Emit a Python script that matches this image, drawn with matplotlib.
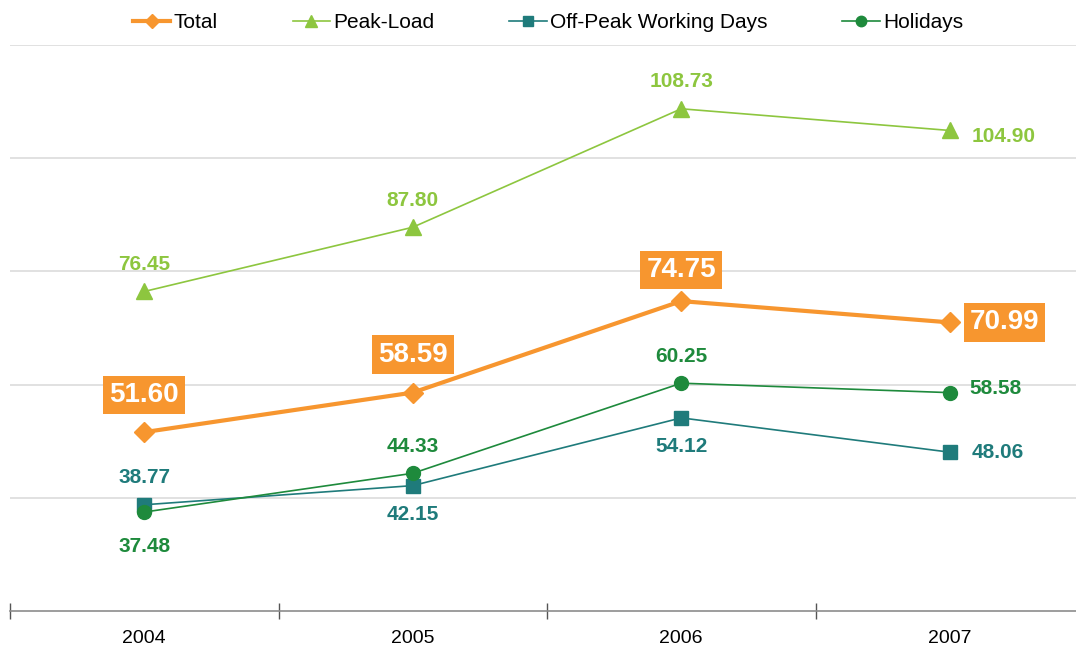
import matplotlib
matplotlib.use("Agg")
import matplotlib.pyplot as plt

plt.rcParams['font.family'] = ['Liberation Sans', 'DejaVu Sans']

years = ['2004', '2005', '2006', '2007']
total = [51.60, 58.59, 74.75, 70.99]
peak_load = [76.45, 87.80, 108.73, 104.90]
off_peak = [38.77, 42.15, 54.12, 48.06]
holidays = [37.48, 44.33, 60.25, 58.58]

c_total = '#F7962F'
c_peak = '#8DC63F'
c_off = '#1F7B7B'
c_hol = '#1E8A3C'

fig = plt.figure(figsize=(10.76, 6.52), dpi=100)
# axes runs slightly past the right edge, as in the reference
ax = fig.add_axes([10 / 1076, 41 / 652, 1074 / 1076, 566 / 652])
x = list(range(len(years)))

ax.set_xlim(-0.5, 3.5)
ax.set_ylim(20, 120)
for yv in [40, 60, 80, 100, 120]:
    ax.axhline(yv, color='#D9D9D9', lw=1.1, zorder=0)

for s in ['top', 'right', 'left']:
    ax.spines[s].set_visible(False)
ax.spines['bottom'].set_color('#8C8C8C')
ax.spines['bottom'].set_linewidth(1.2)
ax.set_yticks([])
ax.set_xticks(x)
ax.set_xticklabels(years, fontsize=14)
ax.tick_params(axis='x', which='major', length=0, pad=14)
ax.set_xticks([-0.5, 0.5, 1.5, 2.5, 3.5], minor=True)
ax.tick_params(axis='x', which='minor', direction='inout', length=11,
               width=1, color='#555555')

ax.plot(x, peak_load, color=c_peak, lw=1.2, marker='^', ms=11, label='Peak-Load', zorder=3)
ax.plot(x, off_peak, color=c_off, lw=1.2, marker='s', ms=10, label='Off-Peak Working Days', zorder=3)
ax.plot(x, holidays, color=c_hol, lw=1.2, marker='o', ms=10, label='Holidays', zorder=3)
ax.plot(x, total, color=c_total, lw=3, marker='D', ms=10, label='Total', zorder=4)

# label offsets in pixels: (dx, dy, ha)
up, down = (0, 27, 'center'), (0, -29, 'center')
right = (22, 0, 'left')
peak_pos = [up, up, up, (22, -6, 'left')]
off_pos = [up, down, down, right]
hol_pos = [(0, -34, 'center'), up, up, (20, 4, 'left')]
total_pos = [(0, 37, 'center'), (0, 38, 'center'), (0, 31, 'center'), (20, 0, 'left')]


def labels(vals, pos, color):
    for i, v in enumerate(vals):
        dx, dy, ha = pos[i]
        ax.annotate(f'{v:.2f}', (x[i], v), xytext=(dx, dy), textcoords='offset pixels',
                    ha=ha, va='center', fontsize=15, fontweight='bold', color=color,
                    annotation_clip=False)


labels(peak_load, peak_pos, c_peak)
labels(off_peak, off_pos, c_off)
labels(holidays, hol_pos, c_hol)
for i, v in enumerate(total):
    dx, dy, ha = total_pos[i]
    ax.annotate(f'{v:.2f}', (x[i], v), xytext=(dx, dy), textcoords='offset pixels',
                ha=ha, va='center', fontsize=20, fontweight='bold', color='white',
                bbox=dict(boxstyle='square,pad=0.22', fc=c_total, ec='none'),
                zorder=5, annotation_clip=False)

h, l = ax.get_legend_handles_labels()
order = [3, 0, 1, 2]
fig.legend([h[i] for i in order], [l[i] for i in order], loc='center',
           bbox_to_anchor=(548 / 1076, 1 - 23 / 652), ncol=4, frameon=False,
           fontsize=15, handlelength=1.8, handletextpad=0.15, columnspacing=3.6,
           markerscale=0.75)

fig.savefig('out.png', dpi=100)
